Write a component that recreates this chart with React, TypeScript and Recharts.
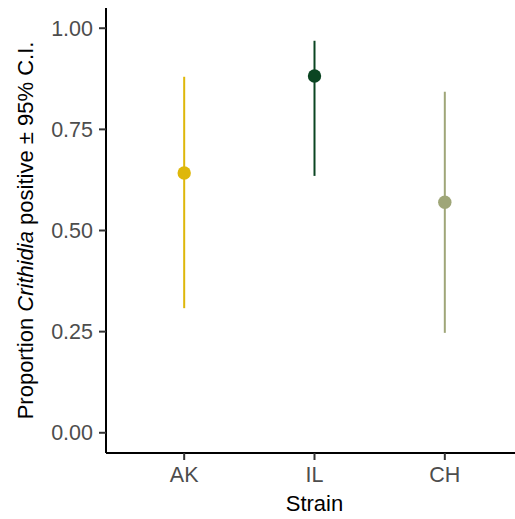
import { ErrorBar, Scatter, ScatterChart, XAxis, YAxis } from "recharts";

const STRAINS = ["AK", "IL", "CH"];
const PROPORTION = [0.642, 0.882, 0.57];
const CI_LOW = [0.308, 0.635, 0.247];
const CI_HIGH = [0.88, 0.969, 0.843];
const COLORS = ["#DEB70A", "#0B4522", "#9FA678"];
const Y_TICKS = [0, 0.25, 0.5, 0.75, 1];

const FONT = '"Liberation Sans", Arial, Helvetica, sans-serif';

const series = STRAINS.map((name, i) => ({
  name,
  color: COLORS[i],
  data: [
    {
      x: i + 1,
      y: PROPORTION[i],
      err: [PROPORTION[i] - CI_LOW[i], CI_HIGH[i] - PROPORTION[i]],
    },
  ],
}));

function YTitle() {
  return (
    <text
      transform="translate(33,230.5) rotate(-90)"
      textAnchor="middle"
      fontSize={22}
      fontFamily={FONT}
      fill="#000"
    >
      <tspan>Proportion </tspan>
      <tspan fontStyle="italic">Crithidia</tspan>
      <tspan> positive ± 95% C.I.</tspan>
    </text>
  );
}

export default function App() {
  return (
    <div
      style={{
        position: "fixed",
        left: 0,
        top: 0,
        width: 515,
        height: 519,
        overflow: "hidden",
        background: "#fff",
      }}
    >
      <ScatterChart
        width={530}
        height={519}
        margin={{ top: 8, right: 7, bottom: 0, left: 0 }}
        style={{ fontFamily: FONT }}
      >
        <XAxis
          type="number"
          dataKey="x"
          domain={[0.4, 3.6]}
          ticks={[1, 2, 3]}
          tickFormatter={(v) => STRAINS[Number(v) - 1]}
          allowDataOverflow
          height={66}
          axisLine={{ stroke: "#000", strokeWidth: 2 }}
          tickLine={{ stroke: "#333", strokeWidth: 2 }}
          tickSize={7}
          tickMargin={7}
          tick={{ fill: "#4D4D4D", fontSize: 21.5, fontFamily: FONT }}
          label={{
            value: "Strain",
            position: "insideBottom",
            offset: 8,
            fill: "#000",
            fontSize: 22,
            fontFamily: FONT,
          }}
        />
        <YAxis
          type="number"
          dataKey="y"
          domain={[-0.05, 1.05]}
          ticks={Y_TICKS}
          tickFormatter={(v) => Number(v).toFixed(2)}
          allowDataOverflow
          width={106}
          axisLine={{ stroke: "#000", strokeWidth: 2 }}
          tickLine={{ stroke: "#333", strokeWidth: 2 }}
          tickSize={7}
          tickMargin={6}
          tick={{ fill: "#4D4D4D", fontSize: 21.5, fontFamily: FONT }}
          label={{ content: () => <YTitle /> }}
        />
        {series.map((s) => (
          <Scatter
            key={s.name}
            name={s.name}
            data={s.data}
            fill={s.color}
            isAnimationActive={false}
            shape={(p: any) => <circle cx={p.cx} cy={p.cy} r={6.7} fill={s.color} />}
          >
            <ErrorBar
              dataKey="err"
              direction="y"
              width={0}
              stroke={s.color}
              strokeWidth={2}
              isAnimationActive={false}
            />
          </Scatter>
        ))}
      </ScatterChart>
    </div>
  );
}
